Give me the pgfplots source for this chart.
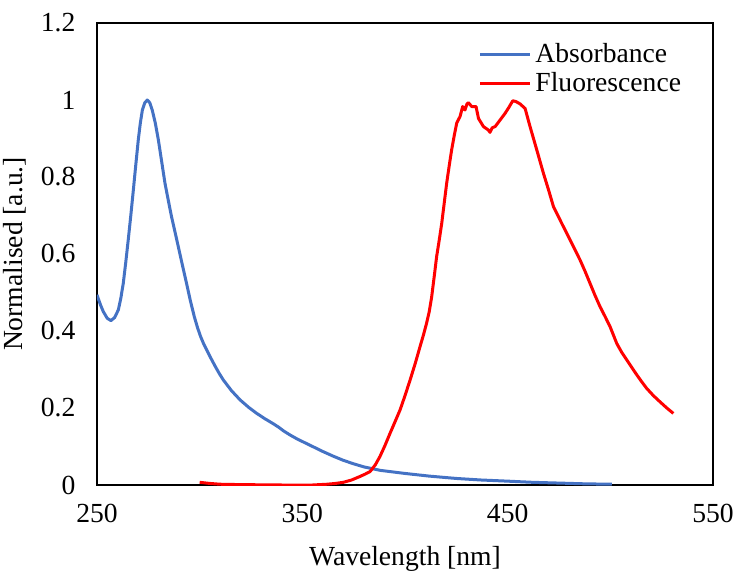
\documentclass[border=0pt]{standalone}
\usepackage{fontspec}
\setmainfont{Liberation Serif}
\usepackage{pgfplots}
\pgfplotsset{compat=1.18}
\definecolor{absblue}{HTML}{4472C4}
\definecolor{flred}{HTML}{FF0000}
\begin{document}
\fontsize{13.8}{16}\selectfont
\begin{tikzpicture}
\useasboundingbox (-48.5pt,-44.5pt) rectangle (321.5pt,242.5pt);
\begin{axis}[
  at={(0,0)}, anchor=south west,
  scale only axis, width=308pt, height=231pt,
  xmin=250, xmax=550, ymin=0, ymax=1.2,
  xtick={250,350,450,550},
  ytick={0,0.2,0.4,0.6,0.8,1,1.2},
  yticklabels={0,0.2,0.4,0.6,0.8,1,1.2},
  major tick length=0pt,
  axis line style={black, line width=0.9pt},
  /pgf/number format/assume math mode=true,
  tick label style={font=\fontsize{13.8}{16}\selectfont},
  label style={font=\fontsize{13.8}{16}\selectfont},
  xticklabel style={yshift=-5pt},
  yticklabel style={xshift=-6pt},
  xlabel={Wavelength [nm]},
  ylabel={Normalised [a.u.]},
  xlabel style={yshift=-2pt},
  ylabel style={yshift=-2pt},
  legend style={at={(0.965,0.975)}, anchor=north east, draw=none, fill=none,
    font=\fontsize{13.8}{16}\selectfont, row sep=-1pt},
  legend cell align=left,
  legend image code/.code={\draw[#1] (0pt,0pt) -- (25pt,0pt);},
]
\addplot[absblue, line width=1.5pt, line join=round] coordinates {
(250,0.494) (250.3,0.489) (251.7,0.468) (253.1,0.450) (255,0.433) (256.8,0.427)
(258.6,0.435) (260.4,0.455) (261.6,0.485) (262.8,0.524) (264,0.578) (265.2,0.636)
(266.5,0.702) (267.7,0.766) (268.9,0.832) (270.1,0.896) (271.1,0.940) (272.1,0.974)
(273.3,0.993) (274.5,1.0) (275.7,0.993) (276.9,0.974) (278.4,0.940) (279.9,0.896)
(281.5,0.840) (283.1,0.784) (284.7,0.740) (286.3,0.697) (288,0.657) (289.6,0.619)
(291.6,0.571) (293.6,0.524) (295.5,0.478) (297.4,0.437) (299,0.408) (300.5,0.385)
(302,0.366) (303.4,0.351) (305.5,0.329) (307.5,0.309) (309.5,0.290) (311.5,0.273)
(315.5,0.245) (319.7,0.221) (323.8,0.202) (327.8,0.186)
(331.8,0.172) (335.9,0.159) (338.5,0.150) (341,0.140) (344,0.130) (347,0.121) (350,0.113) (355,0.100)
(360,0.087) (365,0.075) (370,0.064) (375,0.055) (380,0.047) (388,0.038) (400,0.030)
(412,0.023) (425,0.017) (437,0.013) (450,0.010) (462,0.007) (475,0.005) (488,0.003) (500.7,0.002)
};
\addlegendentry{Absorbance}
\addplot[flred, line width=1.5pt, line join=round] coordinates {
(300,0.007) (305,0.004) (310,0.002) (320,0.001) (340,0.0) (355,0.0) (362,0.002)
(366,0.004) (370,0.007) (374,0.013) (378,0.022) (380.5,0.028) (383,0.035) (385.5,0.052)
(387.8,0.074) (390.2,0.102) (392.7,0.134) (395.2,0.165) (397.6,0.195) (400,0.232)
(402.5,0.273) (405,0.316) (407.3,0.359) (409,0.390) (410.5,0.420) (411.8,0.450)
(413.0,0.489) (414.2,0.540) (415.4,0.593) (416.7,0.637) (417.9,0.680) (419.1,0.732)
(420.3,0.784) (421.5,0.828) (422.7,0.870) (424,0.908) (425.2,0.940) (426.8,0.957)
(428.1,0.983) (429.2,0.974) (430.2,0.990) (430.9,0.993) (432.5,0.983) (434.6,0.983)
(435.8,0.952) (438.2,0.931) (440.6,0.922) (441.4,0.916) (442.5,0.928) (443.9,0.931)
(446.3,0.948) (448.7,0.965) (450.5,0.98) (452.5,0.998) (454,0.996) (456.0,0.990) (458.5,0.978)
(460.9,0.931) (464.2,0.870) (467.4,0.810) (470,0.765) (472.3,0.723) (476.3,0.680) (481.2,0.628)
(485.3,0.584) (487.7,0.555) (490.1,0.524) (492.5,0.493) (495.0,0.463) (497.5,0.437) (499.9,0.411) (503.1,0.368) (505.5,0.345) (508.0,0.325)
(510.5,0.305) (512.9,0.286) (515.3,0.268) (517.7,0.251) (521,0.232) (524.2,0.216) (527.5,0.200) (530.7,0.186)
};
\addlegendentry{Fluorescence}
\end{axis}
\end{tikzpicture}
\end{document}
